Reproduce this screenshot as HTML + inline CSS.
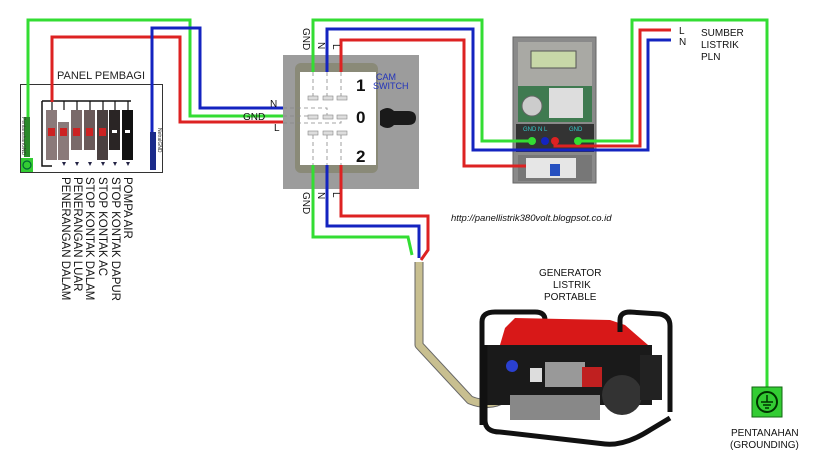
<!DOCTYPE html>
<html><head><meta charset="utf-8"><style>
html,body{margin:0;padding:0;background:#fff;}
svg{display:block;font-family:"Liberation Sans",sans-serif;}
</style></head><body>
<svg width="824" height="466" viewBox="0 0 824 466" xmlns="http://www.w3.org/2000/svg">
<rect width="824" height="466" fill="#fff"/>
<!-- Panel pembagi -->
<text x="57" y="79" font-size="11" fill="#222">PANEL PEMBAGI</text>
<rect x="20.5" y="84.5" width="142" height="88" fill="#fff" stroke="#333" stroke-width="1"/>
<rect x="24" y="117" width="6" height="40" fill="#2a8a2a"/>
<rect x="21" y="158" width="12" height="14" fill="#3c3"/>
<circle cx="27" cy="165" r="4" fill="none" stroke="#063" stroke-width="1.2"/>
<text transform="translate(22,117) rotate(90)" font-size="5" fill="#333">PentanahanGND</text>
<rect x="150" y="132" width="6" height="38" fill="#1a2a8a"/>
<text transform="translate(158,128) rotate(90)" font-size="5" fill="#333">NetralGND</text>
<path d="M42 101 H131 M42 101 V166 H52" stroke="#111" stroke-width="1.5" fill="none"/>
<g stroke="#111" stroke-width="1.2">
<line x1="52" y1="101" x2="52" y2="110"/><line x1="64" y1="101" x2="64" y2="110"/><line x1="77" y1="101" x2="77" y2="110"/><line x1="90" y1="101" x2="90" y2="110"/><line x1="103" y1="101" x2="103" y2="110"/><line x1="115" y1="101" x2="115" y2="110"/><line x1="128" y1="101" x2="128" y2="110"/>
</g>
<g>
<rect x="46" y="110" width="11" height="50" fill="#8a7a7a"/>
<rect x="58" y="110" width="11" height="50" fill="#8a7a7a"/><rect x="58" y="110" width="11" height="12" fill="#fff"/>
<rect x="71" y="110" width="11" height="50" fill="#7a6a6a"/><rect x="71" y="150" width="11" height="10" fill="#fff"/>
<rect x="84" y="110" width="11" height="50" fill="#6a5a5a"/><rect x="84" y="150" width="11" height="10" fill="#fff"/>
<rect x="97" y="110" width="11" height="50" fill="#4a4040"/>
<rect x="109" y="110" width="11" height="50" fill="#2a2525"/><rect x="109" y="150" width="11" height="10" fill="#fff"/>
<rect x="122" y="110" width="11" height="50" fill="#111"/>
<rect x="48" y="128" width="7" height="8" fill="#c22"/><rect x="60" y="128" width="7" height="8" fill="#c22"/><rect x="73" y="128" width="7" height="8" fill="#c22"/><rect x="86" y="128" width="7" height="8" fill="#c22"/><rect x="99" y="128" width="7" height="8" fill="#c22"/>
<rect x="112" y="130" width="5" height="3" fill="#fff"/><rect x="125" y="130" width="5" height="3" fill="#fff"/>
</g>
<g fill="#224"><path d="M62 162 l2 4 l2 -4z M75 162 l2 4 l2 -4z M88 162 l2 4 l2 -4z M101 162 l2 4 l2 -4z M113 162 l2 4 l2 -4z M126 162 l2 4 l2 -4z"/></g>
<g font-size="11.5" fill="#111">
<text transform="translate(62,177) rotate(90)">PENERANGAN DALAM</text>
<text transform="translate(74,177) rotate(90)">PENERANGAN LUAR</text>
<text transform="translate(86,177) rotate(90)">STOP KONTAK DALAM</text>
<text transform="translate(99,177) rotate(90)">STOP KONTAK AC</text>
<text transform="translate(112,177) rotate(90)">STOP KONTAK DAPUR</text>
<text transform="translate(124,177) rotate(90)">POMPA AIR</text>
</g>
<!-- cam switch -->
<rect x="283" y="55" width="136" height="134" fill="#9c9c9c"/>
<rect x="295" y="63" width="83" height="110" rx="6" fill="#8a8a78"/>
<rect x="300" y="72" width="76" height="93" fill="#fff"/>
<path d="M380 111 q8 -6 14 0 h14 q8 0 8 7 q0 7 -8 7 h-14 q-6 6 -14 0z" fill="#1a1a1a"/>
<g fill="#ddd" stroke="#888" stroke-width="0.6">
<rect x="308" y="96" width="10" height="4"/><rect x="323" y="96" width="10" height="4"/><rect x="337" y="96" width="10" height="4"/>
<rect x="308" y="115" width="10" height="4"/><rect x="323" y="115" width="10" height="4"/><rect x="337" y="115" width="10" height="4"/>
<rect x="308" y="131" width="10" height="4"/><rect x="323" y="131" width="10" height="4"/><rect x="337" y="131" width="10" height="4"/>
</g>
<g stroke="#888" stroke-width="0.8" stroke-dasharray="4,3" fill="none">
<path d="M313 72 V96 M327 72 V96 M341 72 V96 M313 135 V165 M327 135 V165 M341 135 V165 M283 108 H327 V115 M283 116 H308 M283 123 H341 V119"/>
</g>
<g font-weight="bold" font-size="17" fill="#111"><text x="356" y="91">1</text><text x="356" y="123">0</text><text x="356" y="162">2</text></g>
<text x="376" y="80" font-size="9" fill="#2233bb">CAM</text><text x="373" y="89" font-size="9" fill="#2233bb">SWITCH</text>
<!-- meter -->
<rect x="513" y="37" width="83" height="146" fill="#8a8a8a" stroke="#666"/>
<rect x="518" y="42" width="74" height="44" fill="#a9a9a4"/>
<rect x="531" y="51" width="45" height="17" fill="#c8d8a8" stroke="#555"/>
<rect x="518" y="86" width="74" height="36" fill="#3f7a50"/>
<circle cx="532" cy="106" r="10" fill="#ccc" stroke="#666"/>
<rect x="549" y="88" width="34" height="30" fill="#ddd"/>
<rect x="516" y="124" width="78" height="28" fill="#333"/>
<text x="523" y="131" font-size="6" fill="#3cc">GND N L</text><text x="569" y="131" font-size="6" fill="#3cc">GND</text>
<rect x="518" y="155" width="74" height="26" fill="#777"/>
<rect x="526" y="158" width="50" height="20" fill="#e6e6e6"/><rect x="550" y="164" width="10" height="12" fill="#2650c0"/>
<!-- wires -->
<g fill="none" stroke-width="3" stroke-linejoin="miter">
<path d="M28 117 V20 H190 V116 H283" stroke="#3d3"/>
<path d="M52 102 V37 H180 V122 H283" stroke="#d22"/>
<path d="M152 132 V28 H200 V108 H283" stroke="#1424c0"/>
<path d="M313 72 V20 H482 V141 H532" stroke="#3d3"/>
<path d="M327 72 V29 H473 V150 H648 V40 H671" stroke="#1424c0"/>
<path d="M341 72 V40 H464 V166 H526" stroke="#d22"/>
<path d="M555 141 V146 H640 V30 H671" stroke="#d22"/>
<path d="M578 141 H632 V20 H767 V388" stroke="#3d3"/>
<path d="M313 165 V237 H408 L412 255" stroke="#3d3"/>
<path d="M327 165 V226 H419 V258" stroke="#1424c0"/>
<path d="M341 165 V216 H428 V250 L421 260" stroke="#d22"/>
</g>
<circle cx="532" cy="141" r="4" fill="#3d3"/><circle cx="545" cy="141" r="4" fill="#1424c0"/><circle cx="555" cy="141" r="4" fill="#d22"/><circle cx="578" cy="141" r="4" fill="#3d3"/>
<!-- cable -->
<path d="M419 262 V345 L470 400 Q490 408 505 398 Q515 385 515 370" fill="none" stroke="#666" stroke-width="9" stroke-linejoin="round"/>
<path d="M419 262 V345 L470 400 Q490 408 505 398 Q515 385 515 370" fill="none" stroke="#c8bf90" stroke-width="7" stroke-linejoin="round"/>
<!-- labels -->
<g font-size="10" fill="#111">
<text x="270" y="107">N</text><text x="243" y="120">GND</text><text x="274" y="131">L</text>
<text transform="translate(303,28) rotate(90)">GND</text><text transform="translate(318,42) rotate(90)">N</text><text transform="translate(333,44) rotate(90)">L</text>
<text transform="translate(303,192) rotate(90)">GND</text><text transform="translate(318,192) rotate(90)">N</text><text transform="translate(333,192) rotate(90)">L</text>
<text x="679" y="34">L</text><text x="679" y="45">N</text>
<text x="701" y="36">SUMBER</text><text x="701" y="48">LISTRIK</text><text x="701" y="60">PLN</text>
<text x="539" y="276">GENERATOR</text><text x="553" y="288">LISTRIK</text><text x="544" y="300">PORTABLE</text>
<text x="731" y="436">PENTANAHAN</text><text x="730" y="448">(GROUNDING)</text>
</g>
<text x="451" y="221" font-size="9.5" font-style="italic" fill="#111">http://panellistrik380volt.blogpsot.co.id</text>
<!-- ground -->
<rect x="752" y="387" width="30" height="30" fill="#3c3" stroke="#161"/>
<circle cx="767" cy="402" r="10" fill="none" stroke="#030" stroke-width="2"/>
<path d="M767 395 V402 M761 402 H773 M763 405 H771 M765 408 H769" stroke="#030" stroke-width="1.5"/>
<!-- generator -->
<g>
<path d="M482 425 V322 Q482 312 495 312 L535 312 Q545 312 545 320" fill="none" stroke="#111" stroke-width="5"/>
<path d="M505 328 L515 318 L610 320 L625 325 L648 345 L500 345z" fill="#d81818"/>
<path d="M620 332 V320 Q620 312 630 312 L660 314 Q670 316 670 326 V412" fill="none" stroke="#111" stroke-width="5"/>
<rect x="487" y="345" width="165" height="60" fill="#1a1a1a"/>
<rect x="545" y="362" width="40" height="25" fill="#999"/>
<circle cx="512" cy="366" r="6" fill="#2a40d0"/>
<rect x="530" y="368" width="12" height="14" fill="#ddd"/>
<rect x="582" y="367" width="20" height="20" fill="#c02020"/>
<circle cx="622" cy="395" r="20" fill="#333"/>
<rect x="640" y="355" width="22" height="45" fill="#222"/>
<rect x="510" y="395" width="90" height="25" fill="#888"/>
<path d="M485 345 V420 Q485 432 500 432 L605 444 Q625 446 650 430 L670 418" fill="none" stroke="#111" stroke-width="5"/>
</g>
</svg>
</body></html>
